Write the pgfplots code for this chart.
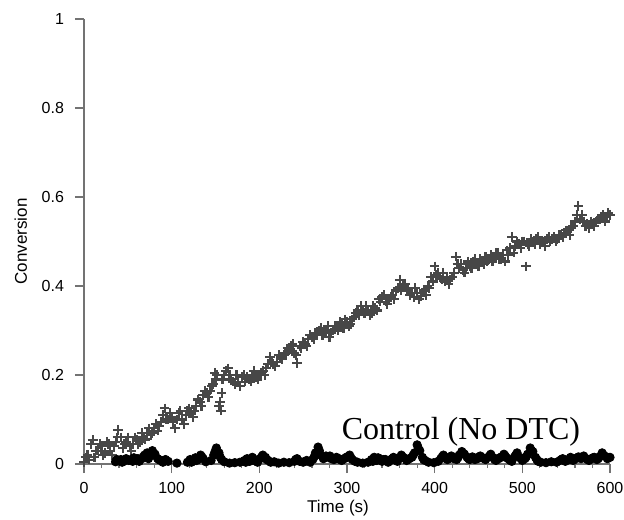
\documentclass[border=0pt]{standalone}
\usepackage{pgfplots}
\pgfplotsset{compat=1.18}
\usepackage{fontspec}
\setmainfont{Liberation Sans}
\newfontfamily\timesfont{Liberation Serif}

\definecolor{axisgray}{gray}{0.45}
\definecolor{markgray}{gray}{0.28}

\begin{document}
\begin{tikzpicture}
\begin{axis}[
    scale only axis,
    width=263pt,
    height=222.5pt,
    xmin=0, xmax=600,
    ymin=0, ymax=1,
    axis lines=left,
    axis line style={axisgray, line width=0.8pt, -},
    xtick={0,100,...,600},
    ytick={0,0.2,...,1},
    yticklabels={0,0.2,0.4,0.6,0.8,1},
    minor x tick num=4,
    tick style={axisgray, line width=0.6pt},
    major tick length=4.5pt,
    minor tick length=2pt,
    tick align=outside,
    font=\fontsize{8}{9}\selectfont,
    /pgf/number format/assume math mode=true,
    xticklabel style={yshift=-1pt},
    yticklabel style={xshift=-2pt},
    xlabel={Time (s)},
    ylabel={Conversion},
    label style={font=\fontsize{8.5}{10}\selectfont},
    xlabel style={at={(axis description cs:0.483,-0.099)}, anchor=center},
    ylabel style={at={(axis description cs:-0.12,0.5)}, anchor=center},
    dtc/.style={only marks, mark=+, mark size=2.4pt, color=markgray, line width=1.05pt},
    ctl/.style={only marks, mark=*, mark size=2.1pt, color=black},
    clip=false,
]
% DTC run
\addplot[dtc] coordinates {
(0,0.005) (2,0.015) (4,0.02) (6,0.01) (8,0.045) (10,0.054) (12,0.015) (14,0.03)
(16,0.03) (20,0.04) (24,0.025) (28,0.045) (32,0.02) (36,0.05) (39,0.077) (42,0.06)
(44,0.035) (48,0.05) (52,0.04) (56,0.045) (60,0.055) (64,0.05) (68,0.06) (72,0.07)
(76,0.065) (80,0.08) (84,0.075) (88,0.095) (92,0.125) (96,0.1) (100,0.105) (104,0.08)
(108,0.115) (112,0.1) (116,0.11) (120,0.125) (124,0.105) (128,0.13) (132,0.14) (136,0.155)
(140,0.16) (144,0.165) (147,0.18) (149,0.205) (152,0.2) (154,0.13) (156,0.12) (158,0.19)
(160,0.2) (164,0.215) (168,0.19) (172,0.18) (176,0.185) (180,0.195) (184,0.185) (188,0.19)
(192,0.2) (196,0.195) (200,0.2) (204,0.21) (208,0.215) (212,0.24) (216,0.225) (220,0.23)
(224,0.24) (228,0.245) (232,0.26) (236,0.265) (240,0.25) (243,0.227) (248,0.26) (252,0.27)
(256,0.28) (260,0.285) (264,0.295) (268,0.3) (272,0.29) (276,0.3) (280,0.285) (284,0.3)
(288,0.31) (292,0.32) (296,0.305) (300,0.32) (304,0.315) (308,0.33) (312,0.345) (316,0.355)
(320,0.34) (324,0.345) (328,0.34) (332,0.35) (336,0.37) (340,0.375) (344,0.365) (348,0.37)
(352,0.38) (356,0.39) (360,0.414) (364,0.4) (368,0.39) (372,0.38) (376,0.375) (380,0.385)
(384,0.378) (388,0.39) (392,0.4) (396,0.42) (400,0.444) (404,0.43) (408,0.415) (412,0.41)
(416,0.405) (420,0.42) (424,0.466) (428,0.44) (432,0.435) (436,0.44) (440,0.445) (444,0.455)
(448,0.45) (452,0.46) (456,0.45) (460,0.455) (464,0.47) (468,0.465) (472,0.475) (476,0.46)
(480,0.455) (484,0.47) (488,0.51) (492,0.49) (496,0.495) (500,0.5) (504,0.444) (508,0.49)
(512,0.5) (516,0.505) (520,0.495) (524,0.5) (528,0.505) (532,0.5) (536,0.51) (540,0.505)
(544,0.515) (548,0.52) (552,0.525) (556,0.53) (560,0.545) (564,0.58) (568,0.56) (572,0.535)
(576,0.53) (580,0.54) (584,0.545) (588,0.55) (592,0.56) (596,0.555) (600,0.56)
};
\addplot[dtc] coordinates {
(18,0.045) (22,0.02) (26,0.05) (30,0.03) (34,0.04) (38,0.06) (46,0.045) (50,0.06)
(54,0.03) (58,0.06) (62,0.045) (66,0.07) (70,0.055) (74,0.08) (78,0.07) (82,0.09)
(86,0.085) (90,0.11) (94,0.1) (98,0.115) (102,0.095) (106,0.1) (110,0.12) (114,0.09)
(118,0.12) (122,0.115) (126,0.12) (130,0.145) (134,0.13) (138,0.165) (142,0.15) (146,0.175)
(150,0.19) (155,0.14) (157,0.16) (162,0.21) (166,0.2) (170,0.185) (174,0.2) (178,0.175)
(182,0.2) (186,0.195) (190,0.185) (194,0.21) (198,0.19) (202,0.205) (206,0.2) (210,0.225)
(214,0.23) (218,0.22) (222,0.245) (226,0.235) (230,0.25) (234,0.255) (238,0.27) (242,0.245)
(246,0.265) (250,0.275) (254,0.265) (258,0.29) (262,0.28) (266,0.29) (270,0.305) (274,0.295)
(278,0.31) (282,0.295) (286,0.31) (290,0.3) (294,0.315) (298,0.325) (302,0.31) (306,0.325)
(310,0.34) (314,0.335) (318,0.345) (322,0.355) (326,0.335) (330,0.355) (334,0.345) (338,0.365)
(342,0.38) (346,0.36) (350,0.375) (354,0.37) (358,0.395) (362,0.39) (366,0.405) (370,0.395)
(374,0.385) (378,0.395) (382,0.37) (386,0.385) (390,0.38) (394,0.395) (398,0.41) (402,0.425)
(406,0.42) (410,0.43) (414,0.42) (418,0.415) (422,0.43) (426,0.45) (430,0.45) (434,0.43)
(438,0.455) (442,0.44) (446,0.46) (450,0.445) (454,0.455) (458,0.465) (462,0.46) (466,0.455)
(470,0.475) (474,0.46) (478,0.47) (482,0.48) (486,0.485) (490,0.475) (494,0.5) (498,0.485)
(502,0.5) (506,0.495) (510,0.505) (514,0.495) (518,0.51) (522,0.5) (526,0.49) (530,0.51)
(534,0.505) (538,0.5) (542,0.515) (546,0.51) (550,0.525) (554,0.515) (558,0.535) (562,0.56)
(566,0.55) (570,0.545) (574,0.54) (578,0.545) (582,0.535) (586,0.55) (590,0.555) (594,0.545)
(598,0.565)
};
% Control (No DTC)
\addplot[ctl] coordinates {
(36,0.005) (39,0.008) (42,0.01) (45,0.006) (48,0.012) (51,0.008) (54,0.01) (57,0.014)
(60,0.009) (63,0.006) (66,0.012) (69,0.02) (72,0.025) (75,0.018) (78,0.03) (81,0.022)
(84,0.012) (87,0.008) (90,0.004) (93,0.01) (96,0.006) (106,0.002) (118,0.004) (121,0.01)
(124,0.006) (127,0.014) (130,0.01) (133,0.02) (136,0.012) (139,0.005) (145,0.008) (148,0.02)
(151,0.036) (154,0.025) (157,0.01) (160,0.005) (166,0.002) (172,0.003) (178,0.004) (183,0.008)
(186,0.012) (189,0.006) (192,0.015) (195,0.01) (198,0.004) (201,0.012) (204,0.02) (207,0.015)
(210,0.008) (213,0.004) (217,0.005) (222,0.002) (228,0.004) (234,0.003) (240,0.006) (243,0.012)
(246,0.006) (250,0.004) (254,0.008) (258,0.004) (261,0.01) (264,0.025) (267,0.038) (270,0.02)
(273,0.012) (276,0.018) (279,0.015) (282,0.012) (285,0.01) (288,0.015) (291,0.012) (294,0.008)
(297,0.012) (300,0.016) (303,0.02) (306,0.01) (309,0.006) (312,0.004) (318,0.002) (324,0.004)
(328,0.01) (331,0.015) (334,0.008) (337,0.012) (340,0.006) (344,0.01) (347,0.004) (350,0.008)
(353,0.015) (356,0.01) (359,0.012) (362,0.02) (365,0.014) (368,0.008) (371,0.012) (374,0.015)
(377,0.025) (380,0.043) (383,0.03) (386,0.015) (389,0.008) (393,0.004) (399,0.003) (404,0.006)
(407,0.012) (410,0.02) (413,0.015) (416,0.012) (419,0.018) (422,0.012) (425,0.01) (428,0.02)
(431,0.028) (434,0.022) (437,0.015) (440,0.01) (443,0.016) (446,0.01) (449,0.012) (452,0.018)
(455,0.014) (458,0.01) (461,0.015) (464,0.022) (467,0.014) (470,0.008) (473,0.012) (476,0.016)
(479,0.022) (482,0.014) (485,0.01) (488,0.006) (491,0.016) (494,0.025) (497,0.015) (500,0.008)
(503,0.012) (506,0.022) (509,0.036) (512,0.028) (515,0.015) (518,0.006) (521,0.004) (527,0.003)
(533,0.005) (539,0.004) (543,0.008) (546,0.012) (549,0.006) (552,0.01) (555,0.015) (558,0.008)
(561,0.012) (564,0.016) (567,0.012) (570,0.018) (573,0.012) (576,0.008) (579,0.012) (582,0.015)
(585,0.01) (588,0.016) (591,0.025) (594,0.018) (597,0.012) (600,0.015)
};
\addplot[ctl] coordinates {
(37.5,0.01) (43.5,0.004) (49.5,0.01) (55.5,0.006) (61.5,0.012) (67.5,0.016) (73.5,0.012) (79.5,0.024)
(85.5,0.01) (91.5,0.008) (122.5,0.004) (128.5,0.008) (134.5,0.016) (149.5,0.028) (155.5,0.015) (184.5,0.004)
(190.5,0.01) (196.5,0.006) (202.5,0.016) (208.5,0.01) (241.5,0.01) (252.5,0.006) (262.5,0.016) (268.5,0.03)
(274.5,0.014) (280.5,0.018) (286.5,0.012) (292.5,0.01) (298.5,0.014) (304.5,0.014) (329.5,0.006) (335.5,0.014)
(342,0.01) (351.5,0.012) (357.5,0.006) (363.5,0.016) (369.5,0.01) (375.5,0.02) (381.5,0.035) (387.5,0.01)
(408.5,0.016) (414.5,0.01) (420.5,0.014) (426.5,0.014) (432.5,0.024) (438.5,0.012) (444.5,0.012) (450.5,0.016)
(456.5,0.012) (462.5,0.018) (468.5,0.01) (474.5,0.014) (480.5,0.018) (486.5,0.008) (492.5,0.02) (498.5,0.012)
(504.5,0.016) (510.5,0.03) (516.5,0.01) (544.5,0.01) (550.5,0.008) (556.5,0.012) (562.5,0.014) (568.5,0.015)
(574.5,0.01) (580.5,0.014) (586.5,0.012) (592.5,0.02) (598.5,0.014)
};
\node[anchor=base, font=\timesfont\fontsize{16}{18}\selectfont, inner sep=0pt]
    at (axis cs:430,0.054) {Control (No DTC)};
\end{axis}
\pgfresetboundingbox
\path[use as bounding box]
    ([shift={(-42pt,-27.5pt)}]current axis.south west)
    rectangle ([shift={(7pt,9.5pt)}]current axis.north east);
\end{tikzpicture}
\end{document}
